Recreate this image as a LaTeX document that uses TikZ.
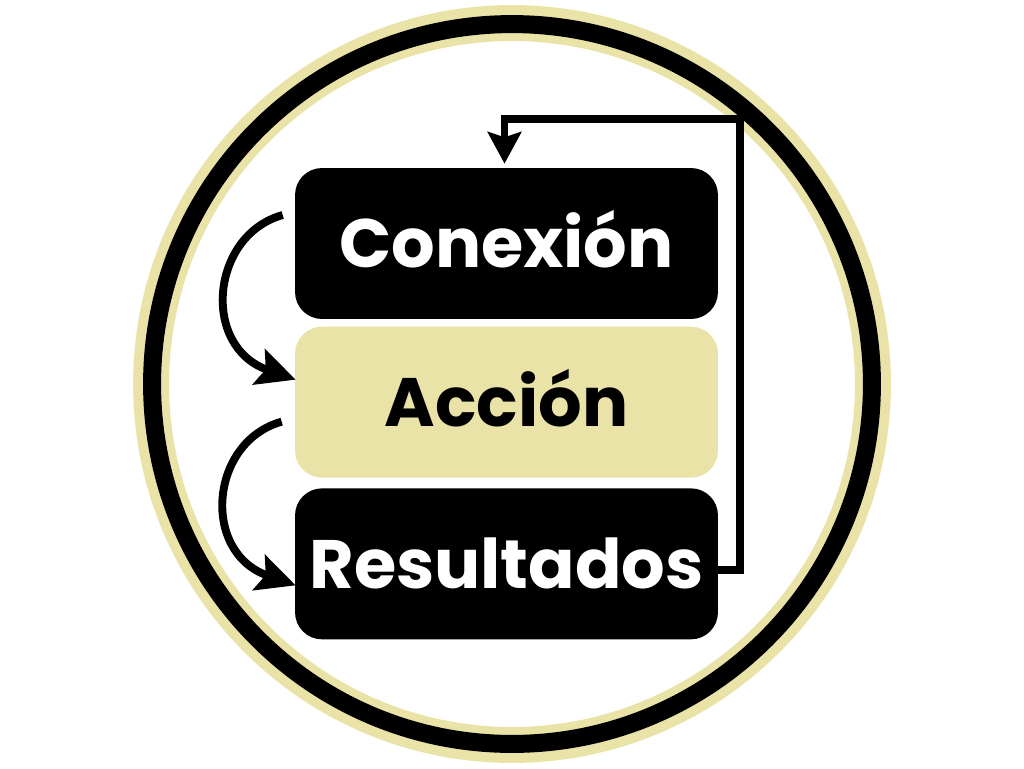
\documentclass[tikz,border=0pt]{standalone}
\usepackage{fontspec}
\setmainfont{Poppins}
\usepackage{tikz}
\usetikzlibrary{arrows.meta,positioning,calc}
\definecolor{sand}{RGB}{233,227,168}
\begin{document}
\begin{tikzpicture}[x=0.02cm,y=-0.02cm,>=Stealth,font=\bfseries\fontsize{39}{39}\selectfont]
		\tikzstyle{stage}=[rectangle, rounded corners=0.54cm, minimum width=8.46cm, minimum height=3.02cm, inner sep=0pt, text height=27.5pt, text depth=0pt]
		\tikzstyle{dark stage}=[stage, fill=black, text=white]
		\tikzstyle{light stage}=[stage, fill=sand, text=black]
		\tikzstyle{flow}=[line width=4.5pt, ->, >={Stealth[length=22pt,width=21pt,inset=4pt]}]
		\tikzstyle{back}=[line width=4.5pt, ->, >={Stealth[length=18pt,width=19pt,inset=3pt]}, line join=miter]

		\useasboundingbox (0,0) rectangle (1024,768);
		\draw [sand, line width=0.72cm] (512,384) circle (7.22cm);
		\draw [black, line width=0.36cm] (512,384) circle (7.2cm);

		\node [dark stage] (con) at (506.5,243.5) {Conexión};
		\node [light stage] (acc) [below=0.14cm of con] {Acción};
		\node [dark stage] (res) [below=0.2cm of acc] {Resultados};

		\draw [flow] ($(con.west)+(-12,-28.5)$) .. controls +(-72,20) and +(-95,-33) .. ($(acc.west)+(1,-22.5)$);
		\draw [flow] ($(acc.west)+(-13,19.5)$) .. controls +(-72,20) and +(-95,-33) .. ($(res.west)+(1,21.5)$);

		\coordinate (top) at (740,119);
		\draw [back] ($(res.east)+(0,6)$) -| (top) -| ($(con.north)+(-2,-4)$);
	\end{tikzpicture}
\end{document}
